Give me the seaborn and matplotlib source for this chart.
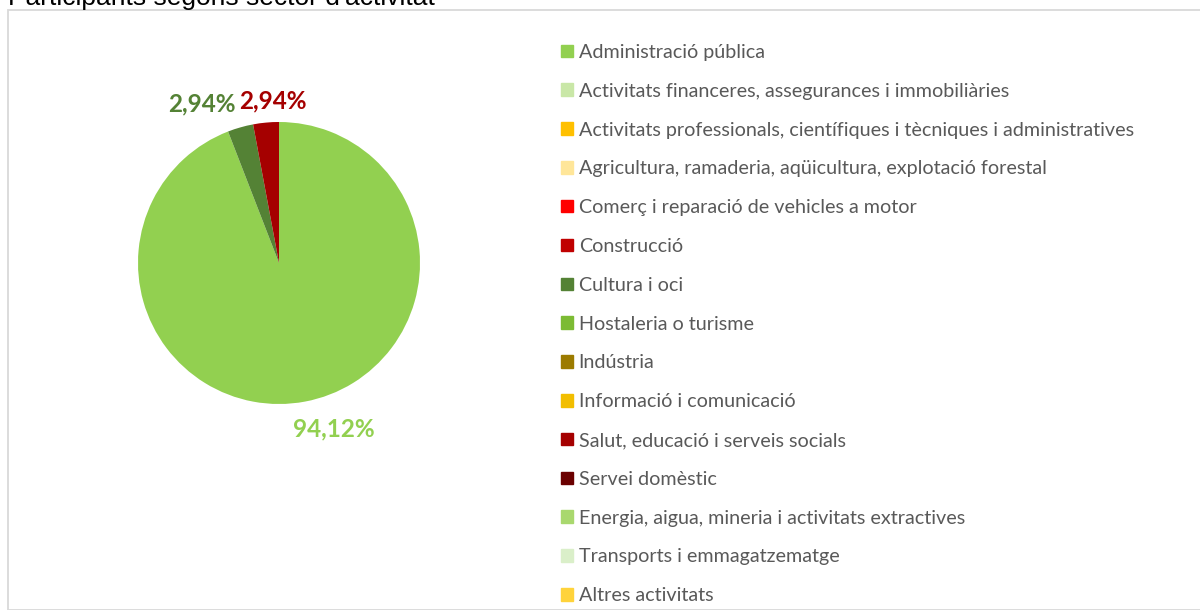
import matplotlib.pyplot as plt
import matplotlib.patches as mpatches
import numpy as np
import seaborn as sns

# participants per sector (counts: 32/34 = 94,12%, 1/34 = 2,94%)
sectors = [
    'Administració pública',
    'Activitats financeres, assegurances i immobiliàries',
    'Activitats professionals, científiques i tècniques i administratives',
    'Agricultura, ramaderia, aqüicultura, explotació forestal',
    "Comerç i reparació de vehicles a motor",
    'Construcció',
    'Cultura i oci',
    'Hostaleria o turisme',
    'Indústria',
    'Informació i comunicació',
    'Salut, educació i serveis socials',
    'Servei domèstic',
    'Energia, aigua, mineria i activitats extractives',
    'Transports i emmagatzematge',
    'Altres activitats',
]
participants = [32, 0, 0, 0, 0, 0, 1, 0, 0, 0, 1, 0, 0, 0, 0]
colors = ['#92D050', '#C9E7A7', '#FFC000', '#FFE699', '#FF0000', '#C00000',
          '#548235', '#7CBB34', '#9C7B00', '#F2BE00', '#A50000', '#6B0000',
          '#A9D86E', '#DAEFC9', '#FFD33B']

sns.set_theme(style='white')
plt.rcParams['font.family'] = ['Lato', 'DejaVu Sans']

fig = plt.figure(figsize=(12, 6.1), dpi=100)

# chart border
fig.patches.append(mpatches.Rectangle((8/1200, 0), 1.0, 1 - 10/610, transform=fig.transFigure,
                                      fill=False, edgecolor='#D9D9D9', linewidth=1.3))
# title, cut at the top like the reference
fig.text(8/1200, 1 - 5.5/610, "Participants segons sector d'activitat", fontsize=19,
         family='Liberation Sans', color='#000000', va='baseline', ha='left')

ax = fig.add_axes([67.5/1200, 135.5/610, 423/1200, 423/610])
wedges, _ = ax.pie(participants, colors=colors, startangle=90, counterclock=False,
                   wedgeprops=dict(linewidth=0))
ax.set_xlim(-1.5, 1.5)
ax.set_ylim(-1.5, 1.5)
ax.set_aspect('equal')
ax.axis('off')

total = sum(participants)
label_shift = {0: (17, 0), 6: (-22, -2.5), 10: (7, -4.5)}
for i, (w, v) in enumerate(zip(wedges, participants)):
    if v == 0:
        continue
    ang = np.deg2rad((w.theta1 + w.theta2) / 2)
    x, y = 1.2 * np.cos(ang), 1.2 * np.sin(ang)
    pct = f'{100 * v / total:.2f}%'.replace('.', ',')
    ax.annotate(pct, (x, y), xytext=label_shift[i], textcoords='offset points',
                ha='center', va='center', fontsize=17.5, fontweight='bold', color=colors[i])

handles = [mpatches.Patch(color=c) for c in colors]
fig.legend(handles, sectors, loc='upper left', bbox_to_anchor=(553/1200, 1 - 36/610),
           frameon=False, fontsize=14.2, labelcolor='#595959', handlelength=0.6,
           handleheight=0.6, handletextpad=0.3, labelspacing=1.106, borderaxespad=0)

fig.savefig('out.png', dpi=100)
